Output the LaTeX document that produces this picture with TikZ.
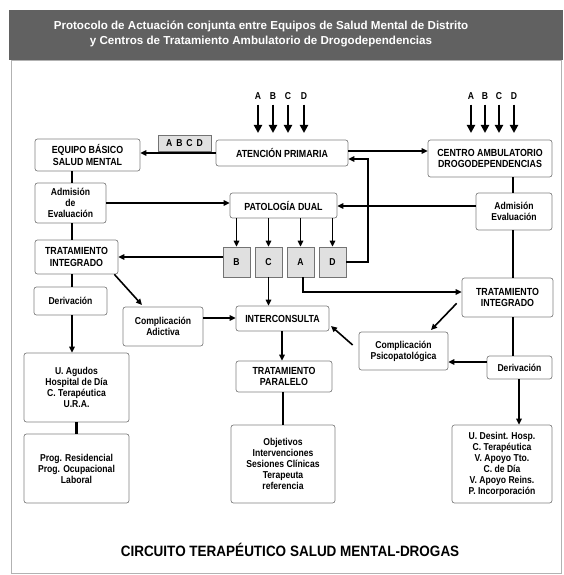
\documentclass[tikz,border=0pt]{standalone}
\usepackage{fontspec}
\setmainfont{Liberation Sans}
\newfontfamily\cf[FakeStretch=0.86]{Liberation Sans}
\newfontfamily\cg[FakeStretch=0.9]{Liberation Sans}
\usetikzlibrary{arrows.meta}
\tikzset{
  box/.style={draw=black!50, line width=0.7pt, rounded corners=2.5pt, fill=white,
    align=center, inner sep=1pt, font=\cf\bfseries\fontsize{10.3}{11.5}\selectfont},
  lbox/.style={box, font=\cf\bfseries\fontsize{10}{11}\selectfont},
  letbox/.style={draw=black!55, line width=0.7pt, fill=black!12, minimum width=27pt,
    minimum height=30pt, font=\cf\bfseries\fontsize{10}{11}\selectfont},
  arr/.style={line width=1.6pt, -{Triangle[length=6pt,width=5.5pt]}},
  bigarr/.style={line width=2pt, -{Triangle[length=8pt,width=8pt]}},
  link/.style={line width=2.6pt},
  lbl/.style={font=\cf\bfseries\fontsize{10}{11}\selectfont, inner sep=0pt},
}
\begin{document}
\begin{tikzpicture}[x=1pt,y=-1pt]
\useasboundingbox (0,0) rectangle (563,575);
% frame and header
\draw[black!30, line width=0.8pt] (11,60) rectangle (561,573);
\fill[black!62] (9,10) rectangle (563,60);
\node[text=white, align=center, font=\bfseries\fontsize{11.6}{14.5}\selectfont] (hdr) at (261,34)
  {Protocolo de Actuación conjunta entre Equipos de Salud Mental de Distrito\\
   y Centros de Tratamiento Ambulatorio de Drogodependencias};

% nodes
\node[box, minimum width=105pt, minimum height=32pt] (eq) at (87.5,155) {EQUIPO BÁSICO\\SALUD MENTAL};
\node[draw=black!55, line width=0.9pt, fill=black!12, minimum width=53pt, minimum height=16pt,
  inner sep=0pt, font=\cf\bfseries\fontsize{10}{11}\selectfont] (abcd) at (184.5,143)
  {A\hspace{4pt}B\hspace{4pt}C\hspace{4pt}D};
\node[box, minimum width=132pt, minimum height=26pt] (at) at (282,153) {ATENCIÓN PRIMARIA};
\node[box, minimum width=124pt, minimum height=37pt] (cen) at (490,158.5) {CENTRO AMBULATORIO\\DROGODEPENDENCIAS};
\node[lbox, minimum width=71pt, minimum height=40pt] (admL) at (70.5,203) {Admisión\\de\\Evaluación};
\node[box, minimum width=107pt, minimum height=25pt] (pat) at (283.5,205.5) {PATOLOGÍA DUAL};
\node[lbox, minimum width=76pt, minimum height=37pt] (admR) at (514,211.5) {Admisión\\Evaluación};
\node[box, minimum width=83pt, minimum height=34pt] (tiL) at (76.5,257) {TRATAMIENTO\\INTEGRADO};
\node[letbox] (bB) at (236.5,262) {B};
\node[letbox] (bC) at (268.5,262) {C};
\node[letbox] (bA) at (300.5,262) {A};
\node[letbox] (bD) at (332.5,262) {D};
\node[lbox, minimum width=73pt, minimum height=28pt] (derL) at (70.5,301) {Derivación};
\node[lbox, minimum width=80pt, minimum height=39pt] (compA) at (163,326.5) {Complicación\\Adictiva};
\node[box, minimum width=93pt, minimum height=25pt] (inter) at (282.5,318.5) {INTERCONSULTA};
\node[box, minimum width=91pt, minimum height=39pt] (tiR) at (507.5,297.5) {TRATAMIENTO\\INTEGRADO};
\node[lbox, minimum width=89pt, minimum height=38pt] (compP) at (403.5,351) {Complicación\\Psicopatológica};
\node[lbox, minimum width=65pt, minimum height=23pt] (derR) at (519.5,367.5) {Derivación};
\node[box, minimum width=96pt, minimum height=31pt] (tp) at (284,376.5) {TRATAMIENTO\\PARALELO};
\node[lbox, minimum width=105pt, minimum height=69pt] (ag) at (76.5,387.5) {U. Agudos\\Hospital de Día\\C. Terapéutica\\U.R.A.};
\node[lbox, minimum width=105pt, minimum height=69pt] (pr) at (76.5,468.5) {Prog. Residencial\\Prog. Ocupacional\\Laboral};
\node[lbox, minimum width=104pt, minimum height=78pt] (obj) at (283,464) {Objetivos\\Intervenciones\\Sesiones Clínicas\\Terapeuta\\referencia};
\node[lbox, minimum width=100pt, minimum height=78pt] (ud) at (502,464) {U. Desint. Hosp.\\C. Terapéutica\\V. Apoyo Tto.\\C. de Día\\V. Apoyo Reins.\\P. Incorporación};

\node[font=\cg\bfseries\fontsize{15}{17}\selectfont] (title) at (290,550) {CIRCUITO TERAPÉUTICO SALUD MENTAL-DROGAS};

% top input arrows
\foreach \l/\x in {A/258,B/273,C/288,D/304}{
  \node[lbl] (t\l) at (\x,96) {\l};
  \draw[bigarr] (t\l.south) ++(0,5) -- (\x,133);
}
\foreach \l/\x in {A/471,B/485,C/499,D/514}{
  \node[lbl] (r\l) at (\x,96) {\l};
  \draw[bigarr] (r\l.south) ++(0,5) -- (\x,133);
}

% left column links
\draw[link] (eq.south -| 72,0) -- (admL.north -| 72,0);
\draw[link] (admL.south -| 72,0) -- (tiL.north -| 72,0);
\draw[link] (tiL.south -| 72,0) -- (derL.north -| 72,0);
\draw[arr] (derL.south -| 72,0) -- (ag.north -| 72,0);
\draw[link] (ag.south) -- (pr.north);

% right column links
\draw[link] (cen.south -| 513,0) -- (admR.north -| 513,0);
\draw[link] (admR.south -| 513,0) -- (tiR.north -| 513,0);
\draw[link] (tiR.south -| 513,0) -- (derR.north -| 513,0);
\draw[arr] (derR.south -| 519,0) -- (ud.north -| 519,0);

% centre
\draw[link] (tp.south -| 283,0) -- (obj.north -| 283,0);
\draw[arr] (at.west) -- (eq.east |- at.west);
\draw[arr] (at.east |- 0,151) -- (cen.west |- 0,151);
\draw[arr] (bD.east) -- (368,262) -- (368,159) -- (at.east |- 0,159);
\draw[arr] (admL.east) -- (pat.west |- admL.east);
\draw[arr] (admR.west |- 0,206) -- (pat.east |- 0,206);
\foreach \b in {bB,bC,bA,bD}{
  \draw[arr] (pat.south -| \b.north) -- (\b.north);
}
\draw[arr] (bB.west |- 0,257) -- (tiL.east);
\draw[arr] (bC.south) -- (inter.north -| bC.south);
\draw[arr] (bA.south -| 303,0) -- (303,292) -- (tiR.west |- 0,292);
\draw[arr] (tiL.south east) ++(-4,0) -- (142,305);
\draw[arr] (compA.east |- 0,318) -- (inter.west |- 0,318);
\draw[arr] (inter.south -| 282,0) -- (tp.north -| 282,0);
\draw[arr] (compP.west) ++(-6,-6) -- (331,326);
\draw[arr] (tiR.south west) ++(-5,-14) -- (431,330);
\draw[arr] (derR.west |- 0,362) -- (compP.east |- 0,362);
\end{tikzpicture}
\end{document}
